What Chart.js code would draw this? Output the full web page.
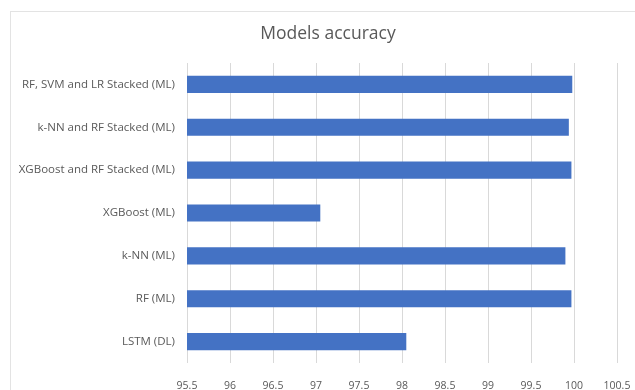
<!DOCTYPE html>
<html>
<head>
<meta charset="utf-8">
<script src="https://cdn.jsdelivr.net/npm/chart.js@4"></script>
<style>
  html, body { margin: 0; padding: 0; background: #ffffff; }
  #wrap { width: 635px; height: 390px; }
</style>
</head>
<body>
<div id="wrap"><canvas id="c" width="635" height="390"></canvas></div>
<script>
const chartTitle = 'Models accuracy';
const models = [
  'RF, SVM and LR Stacked (ML)',
  'k-NN and RF Stacked (ML)',
  'XGBoost and RF Stacked (ML)',
  'XGBoost (ML)',
  'k-NN (ML)',
  'RF (ML)',
  'LSTM (DL)'
];
const accuracy = [99.98, 99.94, 99.97, 97.05, 99.90, 99.97, 98.05];
const xTickLabels = ['95.5', '96', '96.5', '97', '97.5', '98', '98.5', '99', '99.5', '100', '100.5'];

const textColor = '#595959';
const gridColor = '#d9d9d9';
const barColor = '#4472c4';

// White background plus the thin frame around the chart object
const framePlugin = {
  id: 'frame',
  beforeDraw(chart) {
    const ctx = chart.ctx;
    ctx.save();
    ctx.fillStyle = '#ffffff';
    ctx.fillRect(0, 0, chart.width, chart.height);
    ctx.strokeStyle = '#e3e3e3';
    ctx.lineWidth = 1;
    ctx.strokeRect(10.5, 11.5, chart.width + 20, chart.height + 20);
    ctx.restore();
  },
  afterDraw(chart) {
    const ctx = chart.ctx;
    ctx.save();
    ctx.fillStyle = textColor;
    ctx.font = '17.5px "Open Sans", "Liberation Sans", sans-serif';
    ctx.textAlign = 'center';
    ctx.textBaseline = 'middle';
    ctx.fillText(chartTitle, 328, 34);
    ctx.restore();
  }
};

new Chart(document.getElementById('c'), {
  type: 'bar',
  data: {
    labels: models,
    datasets: [{
      data: accuracy,
      backgroundColor: barColor,
      borderWidth: 0,
      categoryPercentage: 1,
      barPercentage: 0.4
    }]
  },
  options: {
    indexAxis: 'y',
    responsive: false,
    animation: false,
    layout: { padding: { top: 63, right: 0, bottom: 0, left: 0 } },
    plugins: {
      legend: { display: false },
      title: { display: false },
      tooltip: { enabled: false }
    },
    scales: {
      x: {
        min: parseFloat(xTickLabels[0]),
        max: parseFloat(xTickLabels[xTickLabels.length - 1]),
        afterBuildTicks(scale) {
          scale.ticks = xTickLabels.map(v => ({ value: parseFloat(v) }));
        },
        afterFit(scale) {
          scale.height = 27;
          scale.paddingRight = 18;
        },
        grid: { color: gridColor, drawTicks: false },
        border: { display: false },
        ticks: {
          color: textColor,
          font: { family: '"Open Sans", "Liberation Sans", sans-serif', size: 10.5 },
          padding: 17,
          maxRotation: 0,
          autoSkip: false,
          callback: (v, i) => xTickLabels[i]
        }
      },
      y: {
        afterFit(scale) { scale.width = 187; },
        grid: { display: false, drawTicks: false },
        border: { display: false },
        ticks: {
          color: textColor,
          font: { family: '"Open Sans", "Liberation Sans", sans-serif', size: 11.5 },
          padding: 12,
          autoSkip: false
        }
      }
    }
  },
  plugins: [framePlugin]
});
</script>
</body>
</html>
